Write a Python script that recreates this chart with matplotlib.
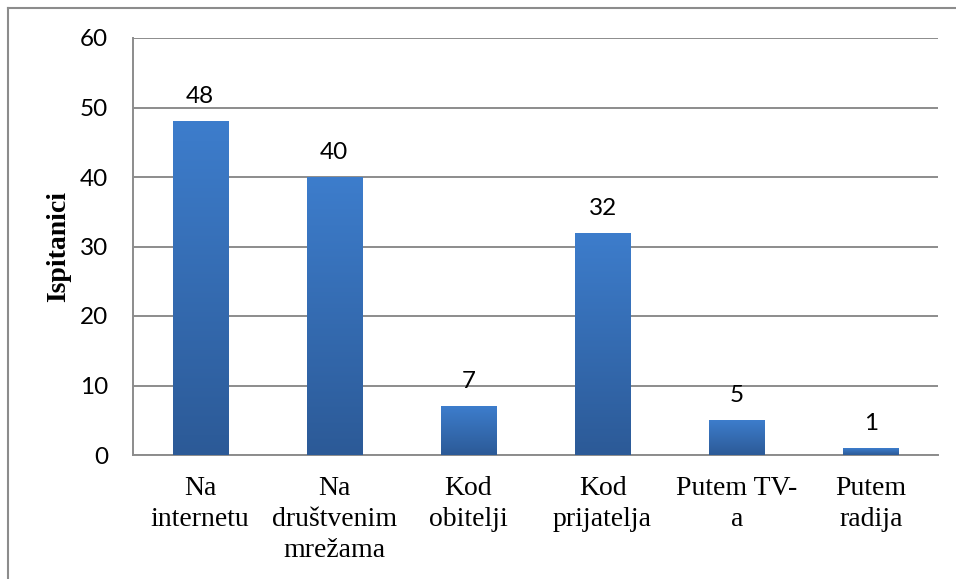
import matplotlib
matplotlib.use("Agg")
import matplotlib.pyplot as plt
import numpy as np
from matplotlib.colors import LinearSegmentedColormap
from matplotlib.lines import Line2D

categories = ["Na\ninternetu", "Na\ndruštvenim\nmrežama", "Kod\nobitelji",
              "Kod\nprijatelja", "Putem TV-\na", "Putem\nradija"]
values = [48, 40, 7, 32, 5, 1]
yticks = [0, 10, 20, 30, 40, 50, 60]
ylabel = "Ispitanici"

plt.rcParams["font.family"] = ["Liberation Serif", "DejaVu Serif"]
SANS = ["Lato", "DejaVu Sans"]

fig = plt.figure(figsize=(9.56, 5.79), dpi=100)
ax = fig.add_axes([133/956, 1-455/579, 805/956, 417/579])

x = np.arange(len(categories))
bars = ax.bar(x, values, width=0.41, color="#3a76c2", zorder=3)

cmap = LinearSegmentedColormap.from_list("g", ["#2c5a97", "#3d7dcc"])
grad = np.linspace(0, 1, 256).reshape(-1, 1)
for b in bars:
    bx, by = b.get_x(), b.get_y()
    w, h = b.get_width(), b.get_height()
    im = ax.imshow(grad, cmap=cmap, origin="lower", aspect="auto",
                   extent=(bx, bx + w, by, by + h), zorder=4)
    im.set_clip_path(b)
    ax.text(bx + w/2, by + h + 2.6, str(int(h)), ha="center", va="baseline",
            fontsize=17.5, family=SANS, color="black", zorder=5)
ax.set_aspect("auto")
ax.set_xlim(-0.5, len(categories)-0.5)
ax.set_ylim(0, 60)

ax.set_yticks(yticks)
ax.set_yticklabels([str(t) for t in yticks], fontfamily=SANS, fontsize=17.5)
ax.set_xticks(x)
ax.set_xticklabels(categories, fontsize=20, linespacing=1.33)
ax.tick_params(axis="x", length=0, pad=15)
ax.tick_params(axis="y", length=0, pad=18)
ax.yaxis.grid(True, color="#8c8c8c", linewidth=1.4, zorder=0)
for s in ["top", "right"]:
    ax.spines[s].set_visible(False)
for s in ["left", "bottom"]:
    ax.spines[s].set_color("#8c8c8c")
    ax.spines[s].set_linewidth(1.4)
ax.set_ylabel(ylabel, fontsize=20, fontweight="bold", labelpad=6)

# outer frame
fig.add_artist(Line2D([8/956, 1], [1-8/579, 1-8/579], color="#8c8c8c", lw=1.5,
                      transform=fig.transFigure))
fig.add_artist(Line2D([8/956, 8/956], [0, 1-8/579], color="#8c8c8c", lw=1.5,
                      transform=fig.transFigure))

fig.savefig("out.png", dpi=100)
